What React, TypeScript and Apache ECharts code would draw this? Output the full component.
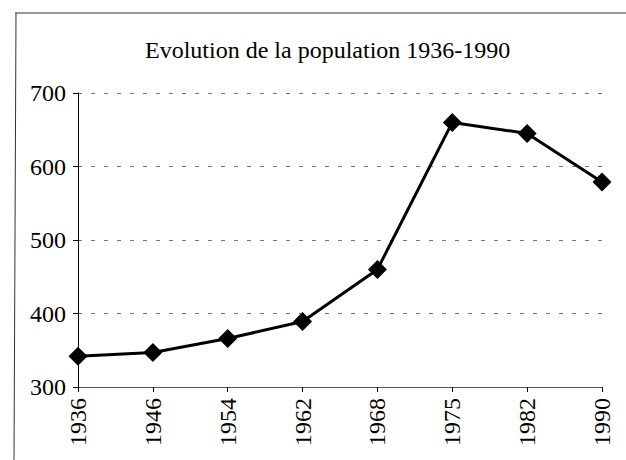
import React, { useEffect, useRef } from "react";
import * as echarts from "echarts";

const titleText = "Evolution de la population 1936-1990";
const years = ["1936", "1946", "1954", "1962", "1968", "1975", "1982", "1990"];
const population = [342, 347, 366, 389, 460, 660, 645, 579];
const yTicks = { min: 300, max: 700, interval: 100 };

const FONT = "'Liberation Serif', 'Times New Roman', serif";

export default function App() {
  const ref = useRef<HTMLDivElement>(null);
  useEffect(() => {
    if (!ref.current) return;
    const chart = echarts.init(ref.current, undefined, { renderer: "svg" });
    chart.setOption({
      animation: false,
      backgroundColor: "#ffffff",
      title: {
        text: titleText,
        left: 145,
        top: 38,
        padding: 0,
        textStyle: { fontFamily: FONT, fontSize: 24, fontWeight: "normal", color: "#000" },
      },
      grid: { left: 78, right: 24, top: 93, bottom: 73, containLabel: false },
      xAxis: {
        type: "category",
        data: years,
        boundaryGap: false,
        axisLine: { lineStyle: { color: "#555", width: 1 } },
        axisTick: { show: true, length: 5, inside: false, lineStyle: { color: "#000" } },
        axisLabel: { rotate: 90, margin: 11, fontFamily: FONT, fontSize: 24, color: "#000" },
        splitLine: { show: false },
      },
      yAxis: {
        type: "value",
        min: yTicks.min,
        max: yTicks.max,
        interval: yTicks.interval,
        axisLine: { show: true, lineStyle: { color: "#000", width: 1 } },
        axisTick: { show: true, length: 5, lineStyle: { color: "#000" } },
        axisLabel: { margin: 12, fontFamily: FONT, fontSize: 24, color: "#000" },
        splitLine: { show: true, lineStyle: { color: "#777", type: [4, 9], width: 1 } },
      },
      series: [
        {
          type: "line",
          data: population,
          symbol: "diamond",
          symbolSize: 19,
          lineStyle: { color: "#000", width: 3 },
          itemStyle: { color: "#000" },
        },
      ],
      graphic: [
        { type: "line", shape: { x1: 15, y1: 13, x2: 626, y2: 13 }, style: { stroke: "#333", lineWidth: 1 } },
        { type: "line", shape: { x1: 16, y1: 13, x2: 14, y2: 460 }, style: { stroke: "#333", lineWidth: 1 } },
      ],
    });
    return () => chart.dispose();
  }, []);
  return <div ref={ref} style={{ position: "fixed", left: 0, top: 0, width: 626, height: 460 }} />;
}
